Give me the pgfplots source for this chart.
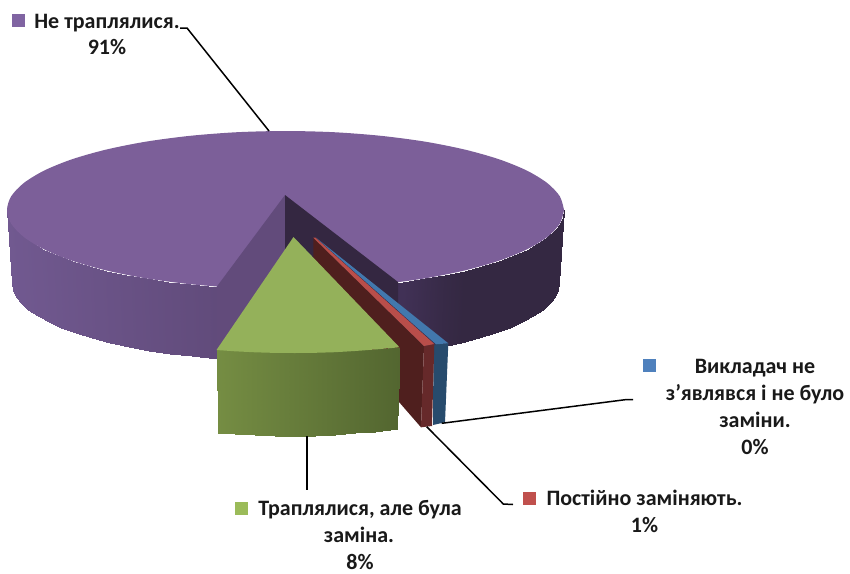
\documentclass[border=0pt]{standalone}
\usepackage{pgfplots}
\pgfplotsset{compat=1.18}
\usepackage{fontspec}
\setmainfont{Carlito}
\definecolor{ptop}{RGB}{124,95,153}
\definecolor{pwallL}{RGB}{98,75,123}
\definecolor{pwallR}{RGB}{52,39,65}
\definecolor{gtop}{RGB}{148,177,90}
\definecolor{rtop}{RGB}{185,78,74}
\definecolor{rwall}{RGB}{79,31,30}
\definecolor{rside}{RGB}{102,41,42}
\definecolor{btop}{RGB}{66,120,173}
\definecolor{bside}{RGB}{39,75,109}
\definecolor{lp}{RGB}{128,100,162}
\definecolor{lb}{RGB}{79,129,189}
\definecolor{lr}{RGB}{192,80,77}
\definecolor{lg}{RGB}{155,187,89}
\pgfplotsset{
 colormap={pleft}{rgb255=(113,89,144) rgb255=(97,75,123)},
 colormap={pright}{rgb255=(65,49,86) rgb255=(52,40,66)},
 colormap={gside}{rgb255=(117,141,67) rgb255=(83,102,48)},
}
\newcommand{\lab}[3]{\node[anchor=base,inner sep=0pt,font=\fontsize{22}{26}\selectfont\bfseries,text=black!90] at (axis cs:#1,#2) {#3};}
\begin{document}
\begin{tikzpicture}
\begin{axis}[
  x=1pt,y=1pt,xmin=0,xmax=850,ymin=0,ymax=573,y dir=reverse,
  hide axis,clip=false,point meta min=0,point meta max=1,
]
% left outer band
\addplot[surf,shader=interp,colormap name=pleft,mesh/rows=2,point meta=explicit] table[x=x,y=y,meta=m] {
x y m
7 210 0
8.1 216.9 0.01
11.2 223.7 0.02
16.5 230.4 0.05
23.8 237 0.08
33.1 243.4 0.12
44.3 249.5 0.17
57.4 255.3 0.24
72.2 260.8 0.31
88.6 265.9 0.39
106.5 270.5 0.47
125.8 274.7 0.57
146.25 278.4 0.67
167.8 281.6 0.77
190.3 284.2 0.87
216.5 287 1
12 283 0
13 289.8 0.01
16.2 296.5 0.02
21.3 303.2 0.05
28.5 309.7 0.08
37.6 316 0.12
48.6 322 0.17
61.5 327.7 0.24
76 333.1 0.31
92.1 338.2 0.39
109.7 342.7 0.47
128.6 346.9 0.57
148.75 350.5 0.67
169.9 353.7 0.77
192 356.3 0.87
216.5 359 1
};
% right outer band
\addplot[surf,shader=interp,colormap name=pright,mesh/rows=2,point meta=explicit] table[x=x,y=y,meta=m] {
x y m
380.7 284.2 0
403.2 281.6 0
424.75 278.4 0.4
445.2 274.7 0.75
464.5 270.5 1
482.4 265.9 1
498.8 260.8 1
513.6 255.3 1
526.7 249.5 1
537.9 243.4 1
547.2 237 1
554.5 230.4 1
559.8 223.7 1
562.9 216.9 1
564 210 1
379 356.3 0
401.1 353.7 0
422.25 350.5 0.4
442.4 346.9 0.75
461.3 342.7 1
478.9 338.2 1
495 333.1 1
509.5 327.7 1
522.4 322 1
533.4 316 1
542.5 309.7 1
549.7 303.2 1
554.8 296.5 1
558 289.8 1
559 283 1
};
% purple top ellipse
\addplot[fill=ptop,draw=none,smooth] coordinates {
(564,210)(559.8,223.7)(547.2,237)(526.7,249.5)(498.8,260.8)(464.5,270.5)(424.75,278.4)(380.7,284.2)(333.8,287.8)(285.5,289)(237.2,287.8)(190.3,284.2)(146.25,278.4)(106.5,270.5)(72.2,260.8)(44.3,249.5)(23.8,237)(11.2,223.7)(7,210)(11.2,196.3)(23.8,183)(44.3,170.5)(72.2,159.2)(106.5,149.5)(146.25,141.6)(190.3,135.8)(237.2,132.2)(285.5,131)(333.8,132.2)(380.7,135.8)(424.75,141.6)(464.5,149.5)(498.8,159.2)(526.7,170.5)(547.2,183)(559.8,196.3)(564,210)};
% inner walls
\addplot[fill=pwallL,draw=none] coordinates {(285,195)(216.5,287)(216.5,359)(285,267)};
\addplot[fill=pwallR,draw=none] coordinates {(285,195)(398,282)(398,352)(285,267)};
% blue slice
\addplot[fill=bside,draw=none] coordinates {(433.5,344.5)(448.3,343.3)(445,422.3)(433,425)};
\addplot[fill=btop,draw=none] coordinates {(316,237.7)(448.3,343.3)(436,344.3)};
% red slice
\addplot[fill=rwall,draw=none] coordinates {(313.3,237.7)(424,346)(421,427.3)(399,402)(396,399)(313.3,310)};
\addplot[fill=rside,draw=none] coordinates {(424,346)(434.3,344)(432,426)(421,427.3)};
\addplot[fill=rtop,draw=none] coordinates {(313.3,237.7)(315.5,237.7)(434.3,344)(424,346)};
% green slice side
\addplot[surf,shader=interp,colormap name=gside,mesh/rows=2,point meta=explicit] table[x=x,y=y,meta=m] {
x y m
216.5 349 0
235 350.3 0.1
255 351.3 0.21
275 351.9 0.32
295 352 0.43
315 351.8 0.54
335 351.2 0.65
355 350 0.76
375 348.5 0.87
399.5 346.8 1
217.5 432.5 0
235 433.8 0.1
255 434.8 0.21
275 435.5 0.32
295 436 0.43
315 435.8 0.54
335 434.8 0.65
355 433.4 0.76
375 431.7 0.87
397 429 1
};
\addplot[fill=gtop,draw=none] coordinates {(293.5,237)(216.5,350)(235,351.3)(255,352.3)(275,352.9)(295,353)(315,352.8)(335,352.2)(355,351)(375,349.5)(399.5,347.3)};
% leader lines
\addplot[black,line width=1.5pt] coordinates {(180,28)(187,28)(269,131)};
\addplot[black,line width=1.5pt] coordinates {(441.7,423.3)(626.7,399.5)(633,399.5)};
\addplot[black,line width=1.5pt] coordinates {(426.7,426.7)(503.3,504)(513,504.5)};
\addplot[black,line width=1.5pt] coordinates {(307,436)(307,489.5)};
% legend keys
\addplot[only marks,mark=square*,mark size=6pt,color=lp] coordinates {(18,20)};
\addplot[only marks,mark=square*,mark size=6pt,color=lb] coordinates {(649.3,365.5)};
\addplot[only marks,mark=square*,mark size=6pt,color=lr] coordinates {(529.5,498)};
\addplot[only marks,mark=square*,mark size=6pt,color=lg] coordinates {(241.3,508)};
% texts
\lab{107}{28}{Не траплялися.}
\lab{107}{54.5}{91\%}
\lab{755}{373}{Викладач не}
\lab{755}{400}{з’являвся і не було}
\lab{755}{427}{заміни.}
\lab{755}{454}{0\%}
\lab{644.5}{505.7}{Постійно заміняють.}
\lab{644.5}{532.5}{1\%}
\lab{360}{515.7}{Траплялися, але була}
\lab{359}{542.3}{заміна.}
\lab{360}{569}{8\%}
\path[use as bounding box] (axis cs:0,0) rectangle (axis cs:850,573);
\end{axis}
\end{tikzpicture}
\end{document}
